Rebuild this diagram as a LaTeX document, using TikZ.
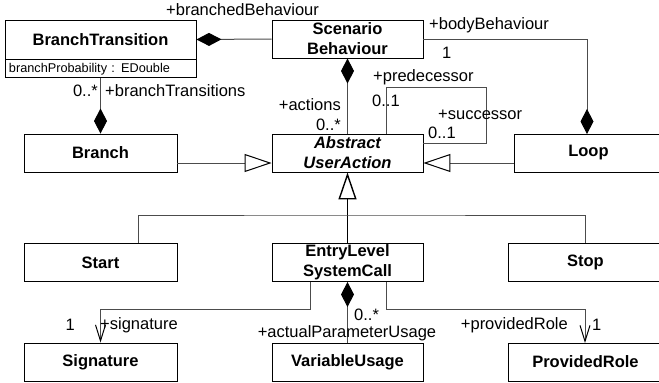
\documentclass[tikz,border=0pt]{standalone}
\usepackage{fontspec}
\setmainfont{Liberation Sans}
\usetikzlibrary{arrows.meta}
\begin{document}
\begin{tikzpicture}[x=1pt,y=-1pt,
  cls/.style={draw=black, line width=0.95pt, fill=white, minimum width=151pt,
    minimum height=38pt, inner sep=1pt, align=center,
    font=\fontsize{16.5}{20}\selectfont\bfseries},
  edgecls/.style={cls, anchor=west, minimum width=175pt, inner xsep=0pt},
  lbl/.style={inner sep=0pt, font=\fontsize{16.5}{20}\selectfont},
  conn/.style={draw=black!70, line width=1pt},
  compsrc/.style={conn, arrows={Diamond[length=25pt,width=13pt,color=black]-}},
  comptgt/.style={conn, arrows={-Diamond[length=25pt,width=13pt,color=black]}},
  gen/.style={conn, arrows={-Triangle[open,length=27pt,width=18pt,fill=white,color=black]}},
  nav/.style={conn, arrows={-Straight Barb[length=16pt,width=10pt,color=black]}}
]
\useasboundingbox (0,0) rectangle (659,383);
\clip (0,0) rectangle (659,383);

% classes
\node[cls, minimum width=191pt, minimum height=39pt] (bt) at (100.5,39.5) {BranchTransition};
\node[draw=black, line width=0.95pt, anchor=north, text width=183pt, align=left,
  inner xsep=4pt, inner ysep=0pt, minimum height=18pt,
  font=\fontsize{12.7}{14}\selectfont] (bta) at (bt.south) {branchProbability : EDouble};
\node[cls] (sb) at (347.5,39) {Scenario\\Behaviour};
\node[cls] (aua) at (347.5,153) {\itshape Abstract\\\itshape UserAction};
\node[cls, minimum width=153pt] (branch) at (100.5,153) {Branch};
\node[cls, minimum width=153pt] (start) at (100.5,262.5) {Start};
\node[cls] (elsc) at (347.5,262.5) {EntryLevel\\SystemCall};
\node[cls, minimum width=153pt] (sig) at (100.5,362) {Signature};
\node[cls] (vu) at (347.5,362) {VariableUsage};
% right column runs past the right margin
\node[edgecls] (loop) at (514,153) {\makebox[148pt]{Loop}\hspace*{27pt}};
\node[edgecls] (stop) at (508,262.5) {\makebox[154pt]{Stop}\hspace*{21pt}};
\node[edgecls] (pr) at (508,362) {\makebox[154pt]{ProvidedRole}\hspace*{21pt}};

% helper corners
\coordinate (selfc) at (486,87);
\coordinate (genbar) at (347.5,215);
\coordinate (loopin) at (587,134);
\coordinate (stopin) at (585,243);
\coordinate (prin) at (585,343);

% compositions
\draw[compsrc] (bt.east) -- (sb.west);
\draw[comptgt] (bta.south) -- (branch.north);
\draw[compsrc] (sb.south) -- (aua.north);
\draw[comptgt] (sb.east) -| (loopin);
\draw[compsrc] (elsc.south) -- (vu.north);

% predecessor / successor
\draw[conn] ([xshift=38.5pt]aua.north) |- (selfc) |- ([yshift=10pt]aua.east);

% generalizations
\draw[gen] ([yshift=-10pt]branch.east) -- ([yshift=-10pt]aua.west);
\draw[gen] ([yshift=-10pt]loop.west) -- ([yshift=-10pt]aua.east);
\draw[gen, draw=black, line width=1.4pt] (elsc.north) -- (aua.south);
\draw[conn] ([xshift=37.5pt]start.north) |- (genbar) -| (stopin);

% navigable associations
\draw[nav] ([xshift=-37.5pt]elsc.south) -- ++(0,28) -| (sig.north);
\draw[nav] ([xshift=38.5pt]elsc.south) -- ++(0,28) -| (prin);

% role names and multiplicities
\node[lbl, anchor=west] (l1) at (166,10) {+branchedBehaviour};
\node[lbl, anchor=east] (l2) at (98,91) {0..*};
\node[lbl, anchor=west] (l3) at (105,91) {+branchTransitions};
\node[lbl, anchor=east] (l4) at (341,105) {+actions};
\node[lbl, anchor=east] (l5) at (341,125) {0..*};
\node[lbl, anchor=west] (l6) at (429,25) {+bodyBehaviour};
\node[lbl, anchor=west] (l7) at (442,53) {1};
\node[lbl, anchor=west] (l8) at (373,77) {+predecessor};
\node[lbl, anchor=west] (l9) at (372,101) {0..1};
\node[lbl, anchor=west] (l10) at (438,115) {+successor};
\node[lbl, anchor=west] (l11) at (428,133) {0..1};
\node[lbl, anchor=east] (l12) at (75,325) {1};
\node[lbl, anchor=west] (l13) at (100,325) {+signature};
\node[lbl, anchor=west] (l14) at (354,315) {0..*};
\node[lbl] (l15) at (347,333) {+actualParameterUsage};
\node[lbl, anchor=east] (l16) at (568,325) {+providedRole};
\node[lbl, anchor=west] (l17) at (592,325) {1};
\end{tikzpicture}
\end{document}
